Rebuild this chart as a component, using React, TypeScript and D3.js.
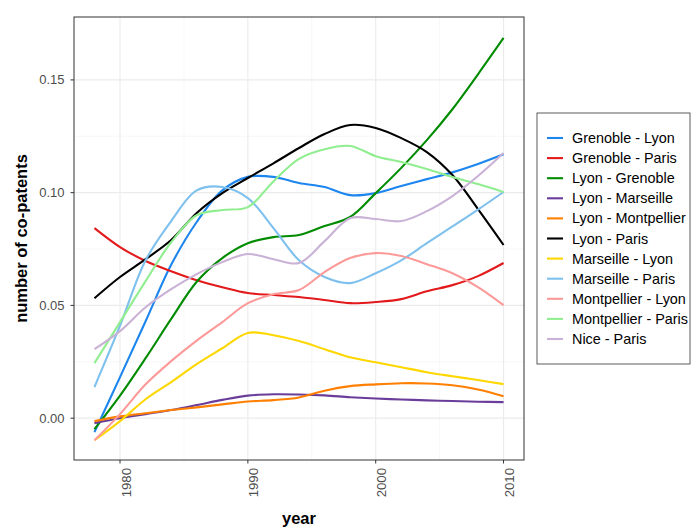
import React from "react";
import * as d3 from "d3";

const years = [1978, 1980, 1982, 1984, 1986, 1988, 1990, 1992, 1994, 1996, 1998, 2000, 2002, 2004, 2006, 2008, 2010];

const grenobleLyon = [-0.0062, 0.0182, 0.043, 0.068, 0.087, 0.101, 0.107, 0.107, 0.1043, 0.1025, 0.0989, 0.0998, 0.103, 0.106, 0.109, 0.1127, 0.117];
const grenobleParis = [0.0843, 0.0759, 0.0697, 0.0652, 0.0612, 0.0581, 0.0555, 0.0546, 0.0537, 0.0524, 0.051, 0.0515, 0.0528, 0.0563, 0.059, 0.063, 0.0688];
const lyonGrenoble = [-0.0049, 0.010, 0.0266, 0.044, 0.0605, 0.071, 0.0776, 0.0803, 0.0812, 0.0852, 0.0892, 0.0998, 0.111, 0.1233, 0.137, 0.1525, 0.1686];
const lyonMarseille = [-0.0022, 0.0, 0.0018, 0.0036, 0.0058, 0.0081, 0.01, 0.0106, 0.0105, 0.0101, 0.0093, 0.0087, 0.0083, 0.0079, 0.0076, 0.0073, 0.0071];
const lyonMontpellier = [-0.0013, 0.0008, 0.0022, 0.0036, 0.0048, 0.0061, 0.0074, 0.008, 0.0092, 0.0122, 0.0142, 0.015, 0.0155, 0.0154, 0.0146, 0.0127, 0.0097];
const lyonParis = [0.0532, 0.0626, 0.0705, 0.079, 0.091, 0.0998, 0.1065, 0.113, 0.1198, 0.126, 0.13, 0.1287, 0.1242, 0.118, 0.1078, 0.0927, 0.0768];
const marseilleLyon = [-0.0098, -0.0013, 0.0084, 0.016, 0.024, 0.031, 0.0378, 0.0368, 0.0342, 0.0306, 0.027, 0.0248, 0.0226, 0.0204, 0.0186, 0.0169, 0.0151];
const marseilleParis = [0.0138, 0.041, 0.070, 0.0874, 0.101, 0.1025, 0.0976, 0.0843, 0.070, 0.0626, 0.0599, 0.0643, 0.070, 0.0776, 0.085, 0.0925, 0.1003];
const montpellierLyon = [-0.0098, 0.0018, 0.015, 0.0253, 0.0344, 0.0426, 0.051, 0.055, 0.0568, 0.0648, 0.071, 0.0732, 0.0719, 0.0683, 0.0643, 0.0581, 0.0501];
const montpellierParis = [0.0244, 0.0426, 0.0608, 0.078, 0.09, 0.0923, 0.0936, 0.105, 0.115, 0.1193, 0.1207, 0.1162, 0.1136, 0.1105, 0.1069, 0.1038, 0.1003];
const niceParis = [0.0306, 0.0386, 0.0492, 0.0572, 0.0639, 0.0692, 0.0728, 0.0705, 0.0688, 0.0785, 0.0887, 0.0883, 0.0874, 0.0918, 0.0985, 0.1074, 0.1176];

const seriesNames = [
  "Grenoble - Lyon",
  "Grenoble - Paris",
  "Lyon - Grenoble",
  "Lyon - Marseille",
  "Lyon - Montpellier",
  "Lyon - Paris",
  "Marseille - Lyon",
  "Marseille - Paris",
  "Montpellier - Lyon",
  "Montpellier - Paris",
  "Nice - Paris",
];
const seriesValues = [
  grenobleLyon, grenobleParis, lyonGrenoble, lyonMarseille, lyonMontpellier, lyonParis,
  marseilleLyon, marseilleParis, montpellierLyon, montpellierParis, niceParis,
];
const seriesColors = [
  "#1C86EE", "#E31A1C", "#008B00", "#6A3D9A", "#FF7F00", "#000000",
  "#FFD700", "#7EC0EE", "#FB9A99", "#90EE90", "#CAB2D6",
];

const xTicks = [1980, 1990, 2000, 2010];
const xMinor = [1985, 1995, 2005];
const yTicks = [0, 0.05, 0.1, 0.15];
const yMinor = [0.025, 0.075, 0.125];

const W = 691, H = 527;
const P = { left: 74, right: 524, top: 17, bottom: 460 };

export default function App() {
  const x = d3.scaleLinear().domain([1976.4, 2011.6]).range([P.left, P.right]);
  const y = d3.scaleLinear().domain([-0.01855, 0.1779]).range([P.bottom, P.top]);
  const line = d3.line<[number, number]>()
    .x((d) => x(d[0]))
    .y((d) => y(d[1]))
    .curve(d3.curveCatmullRom.alpha(0.5));
  const font = "Liberation Sans, Arial, sans-serif";
  const legX = 537, legY = 113, legW = 153, legH = 251;
  const legStart = 138, legStep = 20.1;

  return (
    <svg width={W} height={H} style={{ position: "absolute", left: 0, top: 0 }} fontFamily={font}>
      <rect x={0} y={0} width={W} height={H} fill="#fff" />
      {xMinor.map((t) => (
        <line key={"xm" + t} x1={x(t)} x2={x(t)} y1={P.top} y2={P.bottom} stroke="#F2F2F2" strokeWidth={0.6} />
      ))}
      {yMinor.map((t) => (
        <line key={"ym" + t} x1={P.left} x2={P.right} y1={y(t)} y2={y(t)} stroke="#F2F2F2" strokeWidth={0.6} />
      ))}
      {xTicks.map((t) => (
        <line key={"xg" + t} x1={x(t)} x2={x(t)} y1={P.top} y2={P.bottom} stroke="#EBEBEB" strokeWidth={1.1} />
      ))}
      {yTicks.map((t) => (
        <line key={"yg" + t} x1={P.left} x2={P.right} y1={y(t)} y2={y(t)} stroke="#EBEBEB" strokeWidth={1.1} />
      ))}
      {seriesValues.map((vals, i) => (
        <path
          key={seriesNames[i]}
          d={line(years.map((yr, j) => [yr, vals[j]] as [number, number])) || ""}
          fill="none"
          stroke={seriesColors[i]}
          strokeWidth={2.1}
        />
      ))}
      <rect x={P.left} y={P.top} width={P.right - P.left} height={P.bottom - P.top} fill="none" stroke="#333" strokeWidth={1} />
      {yTicks.map((t) => (
        <g key={"yt" + t}>
          <line x1={P.left - 3.5} x2={P.left} y1={y(t)} y2={y(t)} stroke="#333" strokeWidth={1} />
          <text x={P.left - 9.5} y={y(t)} dy="0.35em" textAnchor="end" fontSize={13} fill="#4D4D4D">
            {d3.format(".2f")(t)}
          </text>
        </g>
      ))}
      {xTicks.map((t) => (
        <g key={"xt" + t}>
          <line x1={x(t)} x2={x(t)} y1={P.bottom} y2={P.bottom + 3.5} stroke="#333" strokeWidth={1} />
          <text
            transform={`translate(${x(t)},${P.bottom + 8}) rotate(-90)`}
            dy="0.8em"
            textAnchor="end"
            fontSize={13.2}
            fill="#4D4D4D"
          >
            {t}
          </text>
        </g>
      ))}
      <text x={(P.left + P.right) / 2} y={524} textAnchor="middle" fontSize={16.5} fontWeight="bold" fill="#000">
        year
      </text>
      <text
        transform={`translate(27,${(P.top + P.bottom) / 2}) rotate(-90)`}
        textAnchor="middle"
        fontSize={16.5}
        fontWeight="bold"
        fill="#000"
      >
        number of co-patents
      </text>
      <rect x={legX} y={legY} width={legW} height={legH} fill="#fff" stroke="#333" strokeWidth={0.8} />
      {seriesNames.map((name, i) => (
        <g key={"lg" + name}>
          <line x1={547} x2={563} y1={legStart + i * legStep} y2={legStart + i * legStep} stroke={seriesColors[i]} strokeWidth={2.1} />
          <text x={572} y={legStart + i * legStep} dy="0.35em" fontSize={14.4} fill="#000">
            {name}
          </text>
        </g>
      ))}
    </svg>
  );
}
